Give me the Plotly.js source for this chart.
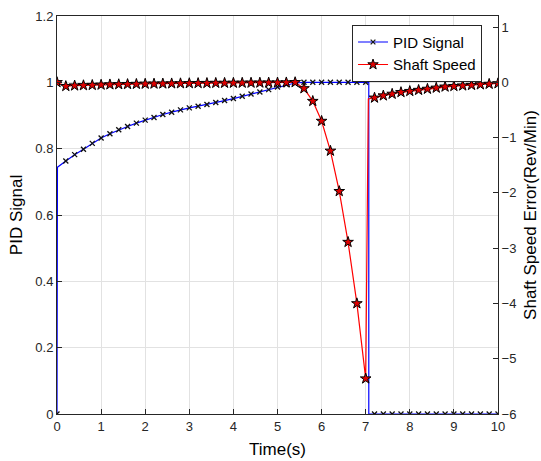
<!DOCTYPE html>
<html>
<head>
<meta charset="utf-8">
<script src="https://cdn.plot.ly/plotly-3.0.1.min.js"></script>
<style>html,body{margin:0;padding:0;background:#fff;}#chart{width:541px;height:461px;}</style>
</head>
<body>
<div id="chart"></div>
<script>
// Sample times (s)
const time = [0,0.2,0.4,0.6,0.8,1,1.2,1.4,1.6,1.8,2,2.2,2.4,2.6,2.8,3,3.2,3.4,3.6,3.8,4,4.2,4.4,4.6,4.8,5,5.2,5.4,5.6,5.8,6,6.2,6.4,6.6,6.8,7,7.2,7.4,7.6,7.8,8,8.2,8.4,8.6,8.8,9,9.2,9.4,9.6,9.8,10];
// PID signal (left axis)
const pidSignal = [0,0.763,0.782,0.798,0.816,0.832,0.845,0.857,0.867,0.877,0.886,0.894,0.903,0.910,0.917,0.923,0.928,0.933,0.939,0.945,0.951,0.958,0.965,0.971,0.978,0.986,0.993,0.998,1,1,1,1,1,1,1,1,0,0,0,0,0,0,0,0,0,0,0,0,0,0,0];
// Shaft speed error (right axis, Rev/Min)
const shaftSpeedError = [0,-0.07,-0.06,-0.055,-0.05,-0.045,-0.04,-0.037,-0.034,-0.031,-0.028,-0.026,-0.024,-0.022,-0.02,-0.018,-0.016,-0.015,-0.013,-0.012,-0.011,-0.01,-0.009,-0.008,-0.007,-0.006,-0.004,0,-0.11,-0.34,-0.70,-1.24,-1.97,-2.89,-4.0,-5.36,-0.28,-0.24,-0.21,-0.18,-0.16,-0.14,-0.12,-0.10,-0.08,-0.07,-0.06,-0.05,-0.04,-0.03,-0.02];
// Step transition points (drawn in the line, without markers)
const pidStepTimes = [0.01, 7.07, 7.07];
const pidStepValues = [0.744, 1, 0];
const speedStepTimes = [7.06];
const speedStepValues = [-0.30];
// Axis ticks
const xTicks = [0,1,2,3,4,5,6,7,8,9,10];
const leftTicks = [0,0.2,0.4,0.6,0.8,1,1.2];
const rightTicks = [-6,-5,-4,-3,-2,-1,0,1];
const seriesNames = ['PID Signal', 'Shaft Speed'];

function merge(ts, vs, st, sv) {
  const pts = ts.map((t, i) => ({t: t, v: vs[i], s: true, o: i}));
  st.forEach((t, i) => pts.push({t: t, v: sv[i], s: false, o: 1000 + i}));
  pts.sort((a, b) => (a.t - b.t) || (a.o - b.o));
  return pts;
}
const pidPts = merge(time, pidSignal, pidStepTimes, pidStepValues);
const spdPts = merge(time, shaftSpeedError, speedStepTimes, speedStepValues);

const font = 'Arial, "Liberation Sans", Helvetica, sans-serif';
const axCol = '#262626';
const gridCol = '#e2e2e2';

const traces = [
  {
    x: pidPts.map(p => p.t), y: pidPts.map(p => p.v),
    name: seriesNames[0], type: 'scatter', mode: 'lines+markers',
    line: {color: '#0000ff', width: 1.2},
    marker: {symbol: 'x-thin', size: pidPts.map(p => p.s ? 5 : 0),
             opacity: pidPts.map(p => p.s ? 1 : 0),
             color: '#000', line: {color: '#111', width: 1.3}},
    yaxis: 'y'
  },
  {
    x: spdPts.map(p => p.t), y: spdPts.map(p => p.v),
    name: seriesNames[1], type: 'scatter', mode: 'lines+markers',
    line: {color: '#ff0000', width: 1.2},
    marker: {symbol: 'star', size: spdPts.map(p => p.s ? 8 : 0),
             opacity: spdPts.map(p => p.s ? 1 : 0),
             color: '#e00000', line: {color: '#000', width: 1}},
    yaxis: 'y2'
  }
];

const layout = {
  width: 541, height: 461,
  margin: {l: 57, r: 43, t: 16, b: 47, pad: 0},
  paper_bgcolor: '#fff', plot_bgcolor: '#fff',
  font: {family: font, color: axCol, size: 13},
  showlegend: true,
  legend: {x: 0.669, y: 0.978, xanchor: 'left', yanchor: 'top',
           bgcolor: '#fff', bordercolor: axCol, borderwidth: 1,
           tracegroupgap: 0, itemwidth: 30,
           font: {family: font, size: 15, color: '#000'}},
  xaxis: {
    range: [0, 10], tickmode: 'array', tickvals: xTicks,
    ticks: 'inside', ticklen: 5, tickcolor: axCol,
    showline: true, linecolor: axCol, linewidth: 1, mirror: true,
    showgrid: true, gridcolor: gridCol, zeroline: false,
    tickfont: {size: 13, color: axCol},
    title: {text: 'Time(s)', font: {size: 17, color: '#000'}, standoff: 10}
  },
  yaxis: {
    range: [0, 1.2], tickmode: 'array', tickvals: leftTicks,
    ticks: 'inside', ticklen: 5, tickcolor: axCol,
    showline: true, linecolor: axCol, linewidth: 1,
    showgrid: true, gridcolor: gridCol, zeroline: false,
    tickfont: {size: 13, color: axCol},
    title: {text: 'PID Signal', font: {size: 17, color: '#000'}, standoff: 8}
  },
  yaxis2: {
    overlaying: 'y', side: 'right', range: [-6, 1.2],
    tickmode: 'array', tickvals: rightTicks,
    ticks: 'inside', ticklen: 5, tickcolor: axCol,
    showline: true, linecolor: axCol, linewidth: 1,
    showgrid: false, zeroline: false,
    tickfont: {size: 13, color: axCol},
    title: {text: 'Shaft Speed Error(Rev/Min)', font: {size: 17, color: '#000'}, standoff: 8}
  }
};

Plotly.newPlot('chart', traces, layout, {displayModeBar: false, staticPlot: true});
</script>
</body>
</html>
